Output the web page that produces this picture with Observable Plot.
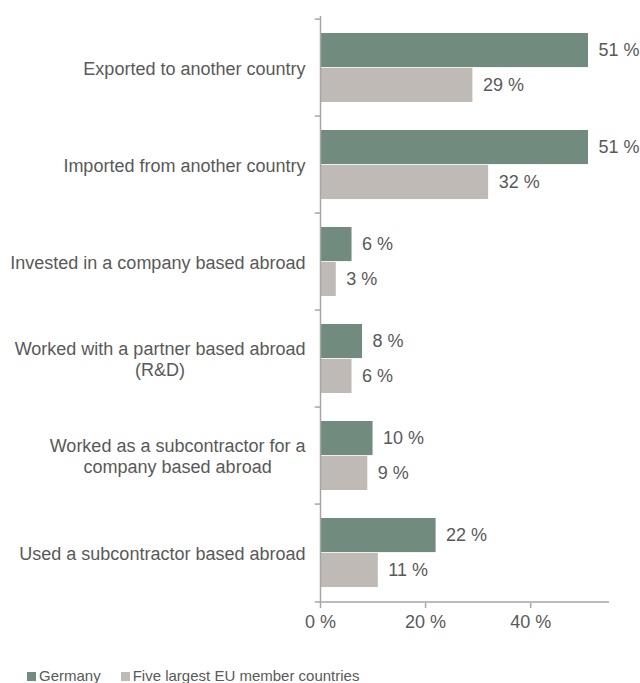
<!DOCTYPE html>
<html>
<head>
<meta charset="utf-8">
<script src="https://cdn.jsdelivr.net/npm/d3@7"></script>
<script src="https://cdn.jsdelivr.net/npm/@observablehq/plot@0.6"></script>
<style>
  body { margin: 0; background: #fff; font-family: "Liberation Sans", Arial, sans-serif; }
  #chart svg { display: block; }
  .legend { padding: 22px 0 0 27px; font-size: 15px; color: #595959; white-space: nowrap; line-height: 17px; }
  .legend span.sw { display: inline-block; width: 9px; height: 9px; margin-right: 3px; vertical-align: 0px; }
  .legend span.item { margin-right: 20px; }
</style>
</head>
<body>
<div id="chart"></div>
<div class="legend"><span class="item"><span class="sw" style="background:#718b7e"></span>Germany</span><span class="item"><span class="sw" style="background:#bfbab6"></span>Five largest EU member countries</span></div>
<script>
const categories = [
  "Exported to another country",
  "Imported from another country",
  "Invested in a company based abroad",
  "Worked with a partner based abroad\n(R&D)",
  "Worked as a subcontractor for a\ncompany based abroad",
  "Used a subcontractor based abroad"
];
const seriesNames = ["Germany", "Five largest EU member countries"];
const germany = [51, 51, 6, 8, 10, 22];
const eu5 = [29, 32, 3, 6, 9, 11];
const xTicks = [0, 20, 40];
const colors = ["#718b7e", "#bfbab6"];

const rowsG = categories.map((c, i) => ({category: c, series: seriesNames[0], value: germany[i]}));
const rowsE = categories.map((c, i) => ({category: c, series: seriesNames[1], value: eu5[i]}));

const W = 640, H = 645, mt = 16, mb = 42, ml = 320, mr = 31;
const step = (H - mt - mb) / categories.length;
const inset = step * 0.143;
const barH = (step - 2 * inset) / 2;
const axisColor = "#a6a6a6";
const textColor = "#595959";

const chart = Plot.plot({
  width: W, height: H,
  marginTop: mt, marginBottom: mb, marginLeft: ml, marginRight: mr,
  style: {fontFamily: "'Liberation Sans', Arial, sans-serif", fontSize: "18px", color: textColor, background: "#fff"},
  x: {domain: [0, 55], axis: null},
  y: {domain: categories, padding: 0, axis: null},
  marks: [
    Plot.barX(rowsG, {x: "value", y: "category", fill: colors[0], insetTop: inset, insetBottom: inset + barH}),
    Plot.barX(rowsE, {x: "value", y: "category", fill: colors[1], insetTop: inset + barH, insetBottom: inset}),
    Plot.text(rowsG, {x: "value", y: "category", text: d => d.value + " %", textAnchor: "start", dx: 10, dy: -barH / 2, fill: textColor, fontSize: 18}),
    Plot.text(rowsE, {x: "value", y: "category", text: d => d.value + " %", textAnchor: "start", dx: 10, dy: barH / 2, fill: textColor, fontSize: 18}),
    Plot.ruleX([0], {stroke: axisColor, strokeWidth: 1.5}),
    Plot.ruleY(categories, {y: d => d, x1: -1, x2: 0, dy: -step / 2, stroke: axisColor, strokeWidth: 1.5}),
    Plot.ruleY([categories[categories.length - 1]], {y: d => d, x1: -1, x2: 55, dy: step / 2, stroke: axisColor, strokeWidth: 1.5}),
    Plot.axisX({ticks: xTicks, tickFormat: d => d + " %", tickSize: 5, tickPadding: 7, stroke: axisColor, strokeWidth: 1.5, fill: textColor, fontSize: 18, label: null}),
    Plot.axisY({tickSize: 0, tickPadding: 15, fill: textColor, fontSize: 18, lineHeight: 1.15, label: null})
  ]
});
document.getElementById("chart").appendChild(chart);

// center multi-line category labels as a block, right-aligned to the axis
chart.querySelectorAll("text").forEach(t => {
  const spans = t.querySelectorAll("tspan");
  if (spans.length > 1) {
    let w = 0;
    spans.forEach(s => { w = Math.max(w, s.getComputedTextLength()); });
    t.setAttribute("text-anchor", "middle");
    t.style.textAnchor = "middle";
    spans.forEach(s => s.setAttribute("x", -w / 2));
  }
});
</script>
</body>
</html>
